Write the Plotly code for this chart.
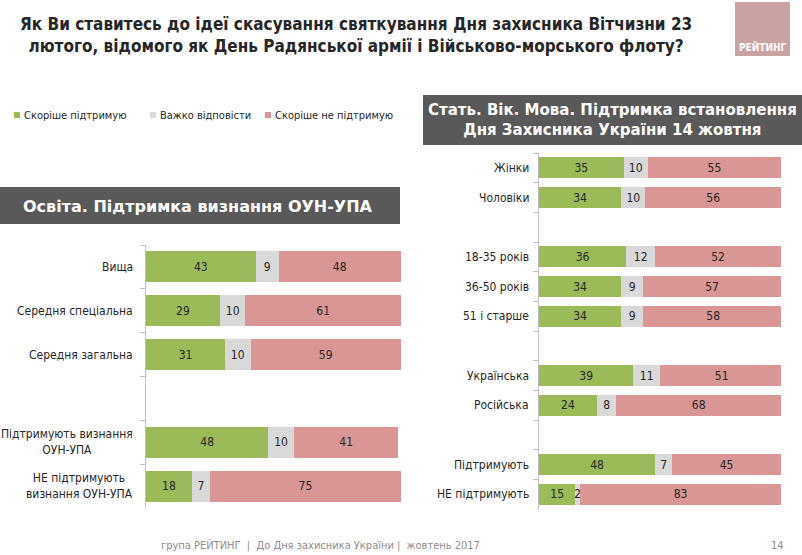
import plotly.graph_objects as go

W, H = 802, 555

series_names = ["Скоріше підтримую", "Важко відповісти", "Скоріше не підтримую"]
series_colors = ["#9BBB59", "#D9D9D9", "#D99694"]

left_cats = ["Вища", "Середня спеціальна", "Середня загальна", " ",
             "Підтримують визнання<br>ОУН-УПА", "НЕ підтримують<br>визнання ОУН-УПА"]
left_support = [43, 29, 31, None, 48, 18]
left_hard = [9, 10, 10, None, 10, 7]
left_not = [48, 61, 59, None, 41, 75]

right_cats = ["Жінки", "Чоловіки", " ", "18-35 років", "36-50 років", "51 і старше", "  ",
              "Українська", "Російська", "   ", "Підтримують", "НЕ підтримують"]
right_support = [35, 34, None, 36, 34, 34, None, 39, 24, None, 48, 15]
right_hard = [10, 10, None, 12, 9, 9, None, 11, 8, None, 7, 2]
right_not = [55, 56, None, 52, 57, 58, None, 51, 68, None, 45, 83]

title_text = ("Як Ви ставитесь до ідеї скасування святкування Дня захисника Вітчизни 23<br>"
              "лютого, відомого як День Радянської армії і Військово-морського флоту?")
left_header = "Освіта. Підтримка визнання ОУН-УПА"
right_header = "Стать. Вік. Мова. Підтримка встановлення<br>Дня Захисника України 14 жовтня"
footer_text = "група РЕЙТИНГ  |  До Дня захисника України |  жовтень 2017"
page_no = "14"
logo_text = "РЕЙТИНГ"

NARROW = "Liberation Sans Narrow, Arial Narrow, DejaVu Sans Condensed, sans-serif"
HEAVY = "DejaVu Sans, Arial Black, sans-serif"
TXT = "#262626"


def px_x(p):
    return p / W


def px_y(p):
    return 1 - p / H


fig = go.Figure()

left_vals = [left_support, left_hard, left_not]
right_vals = [right_support, right_hard, right_not]

for i in range(3):
    fig.add_trace(go.Bar(
        y=left_cats, x=left_vals[i], orientation="h", name=series_names[i],
        marker=dict(color=series_colors[i], line=dict(width=0)),
        text=[("" if v is None else str(v)) for v in left_vals[i]],
        textposition="inside", insidetextanchor="middle",
        textfont=dict(family=NARROW, size=12, color=TXT),
        xaxis="x", yaxis="y", showlegend=False, hoverinfo="skip",
    ))
for i in range(3):
    fig.add_trace(go.Bar(
        y=right_cats, x=right_vals[i], orientation="h", name=series_names[i],
        marker=dict(color=series_colors[i], line=dict(width=0)),
        text=[("" if v is None else str(v)) for v in right_vals[i]],
        textposition="inside", insidetextanchor="middle",
        textfont=dict(family=NARROW, size=12, color=TXT),
        xaxis="x2", yaxis="y2", showlegend=False, hoverinfo="skip",
    ))

L_x0, L_x1, L_y0, L_y1 = 146, 401, 245, 508
R_x0, R_x1, R_y0, R_y1 = 539, 781, 153, 509

yax_common = dict(type="category", autorange="reversed", showline=True, linecolor="#BFBFBF",
                  linewidth=1, ticks="outside", ticklen=5, tickcolor="#BFBFBF",
                  tickson="boundaries", showticklabels=False, showgrid=False, zeroline=False,
                  fixedrange=True)
xax_common = dict(range=[0, 100], visible=False, showgrid=False, zeroline=False, fixedrange=True)

fig.update_layout(
    width=W, height=H,
    margin=dict(l=0, r=0, t=0, b=0),
    paper_bgcolor="white", plot_bgcolor="white",
    barmode="stack",
    uniformtext=dict(minsize=12, mode="show"),
    xaxis=dict(domain=[px_x(L_x0), px_x(L_x1)], anchor="y", **xax_common),
    yaxis=dict(domain=[px_y(L_y1), px_y(L_y0)], anchor="x",
               categoryorder="array", categoryarray=left_cats, **yax_common),
    xaxis2=dict(domain=[px_x(R_x0), px_x(R_x1)], anchor="y2", **xax_common),
    yaxis2=dict(domain=[px_y(R_y1), px_y(R_y0)], anchor="x2",
                categoryorder="array", categoryarray=right_cats, **yax_common),
    bargap=0.29,
    showlegend=False,
)

shapes = [
    # left header box
    dict(type="rect", xref="paper", yref="paper", x0=px_x(0), x1=px_x(400),
         y0=px_y(224), y1=px_y(187), fillcolor="#595959", line=dict(width=0), layer="below"),
    # right header box
    dict(type="rect", xref="paper", yref="paper", x0=px_x(423), x1=px_x(802),
         y0=px_y(145), y1=px_y(95), fillcolor="#595959", line=dict(width=0), layer="below"),
    # logo box
    dict(type="rect", xref="paper", yref="paper", x0=px_x(735), x1=px_x(790),
         y0=px_y(56), y1=px_y(2), fillcolor="#C9A2A4", line=dict(width=0), layer="below"),
]

annotations = [
    dict(text=title_text, xref="paper", yref="paper", x=px_x(356), y=px_y(35),
         xanchor="center", yanchor="middle", showarrow=False, align="center",
         font=dict(family=NARROW, size=17, color=TXT, weight="bold")),
    dict(text=left_header, xref="paper", yref="paper", x=px_x(198), y=px_y(206),
         xanchor="center", yanchor="middle", showarrow=False,
         font=dict(family=HEAVY, size=16, color="white", weight="bold")),
    dict(text=right_header, xref="paper", yref="paper", x=px_x(612), y=px_y(120),
         xanchor="center", yanchor="middle", showarrow=False, align="center",
         font=dict(family=HEAVY, size=15, color="white", weight="bold")),
    dict(text=logo_text, xref="paper", yref="paper", x=px_x(762), y=px_y(47),
         xanchor="center", yanchor="middle", showarrow=False,
         font=dict(family=NARROW, size=10, color="white", weight="bold")),
    dict(text=footer_text, xref="paper", yref="paper", x=px_x(320), y=px_y(545),
         xanchor="center", yanchor="middle", showarrow=False,
         font=dict(family=NARROW, size=11, color="#8C8C8C")),
    dict(text=page_no, xref="paper", yref="paper", x=px_x(777), y=px_y(545),
         xanchor="center", yanchor="middle", showarrow=False,
         font=dict(family=NARROW, size=11, color="#8C8C8C")),
]

# legend (drawn manually to match the compact layout)
legend_x = [14, 150, 265]
for name, color, lx in zip(series_names, series_colors, legend_x):
    shapes.append(dict(type="rect", xref="paper", yref="paper", x0=px_x(lx), x1=px_x(lx + 6),
                       y0=px_y(118), y1=px_y(112), fillcolor=color, line=dict(width=0)))
    annotations.append(dict(text=name, xref="paper", yref="paper", x=px_x(lx + 8), y=px_y(115),
                            xanchor="left", yanchor="middle", showarrow=False,
                            font=dict(family=NARROW, size=11, color=TXT)))

for c in left_cats:
    if c.strip():
        annotations.append(dict(text=c, xref="paper", yref="y", x=px_x(L_x0 - 11), y=c,
                                xanchor="right", yanchor="middle", showarrow=False, align="center",
                                font=dict(family=NARROW, size=12, color=TXT)))
for c in right_cats:
    if c.strip():
        annotations.append(dict(text=c, xref="paper", yref="y2", x=px_x(R_x0 - 8), y=c,
                                xanchor="right", yanchor="middle", showarrow=False, align="right",
                                font=dict(family=NARROW, size=12, color=TXT)))

fig.update_layout(shapes=shapes, annotations=annotations)

fig.write_html("out.html", config={"displayModeBar": False},
               post_script="document.body.style.margin='0px';")
